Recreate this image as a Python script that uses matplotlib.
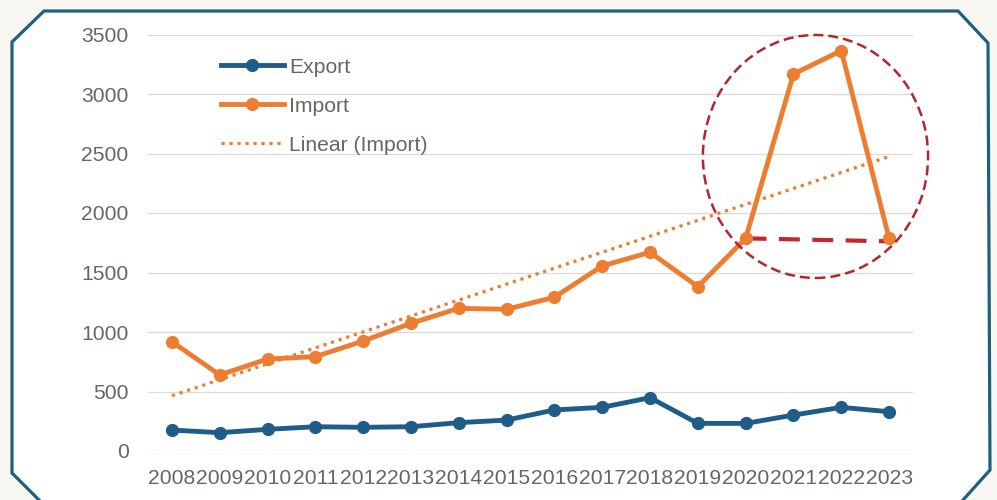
import numpy as np
import matplotlib.pyplot as plt
from matplotlib.patches import Polygon, Ellipse

years = ['2008', '2009', '2010', '2011', '2012', '2013', '2014', '2015',
         '2016', '2017', '2018', '2019', '2020', '2021', '2022', '2023']
export = [176, 154, 182, 204, 199, 204, 238, 260, 345, 367, 448, 232, 232, 302, 367, 330]
imports = [918, 639, 773, 793, 924, 1073, 1199, 1191, 1292, 1555, 1670, 1381, 1787, 3168, 3364, 1787]
y_ticks = [0, 500, 1000, 1500, 2000, 2500, 3000, 3500]

plt.rcParams['font.family'] = ['Liberation Sans', 'DejaVu Sans']

fig = plt.figure(figsize=(9.97, 5.0), dpi=100)
fig.patch.set_facecolor('#f8f7f2')

# framed panel with cut corners (pixel coords -> figure fraction)
W, H = 997, 500
pts = [(12, 42), (44, 11), (958, 11), (988, 43), (990, 470), (954, 510),
       (49, 510), (12, 473)]
frame = Polygon([(x / W, 1 - y / H) for x, y in pts], closed=True,
                transform=fig.transFigure, facecolor='white',
                edgecolor='#1f5f80', linewidth=2.3, zorder=-1)
fig.patches.append(frame)

ax = fig.add_axes([148 / W, 1 - 451 / H, (913 - 148) / W, (451 - 34.5) / H])
ax.set_facecolor('none')

x = np.arange(len(years))
ax.plot(x, export, color='#1f5c87', lw=3.5, marker='o', ms=8.5, label='Export', zorder=4)
ax.plot(x, imports, color='#ed7d31', lw=3.5, marker='o', ms=8.5, label='Import', zorder=4)

coef = np.polyfit(x, imports, 1)
ax.plot(x, np.polyval(coef, x), color='#ed7d31', lw=2.3, ls=(0, (1, 1.5)),
        label='Linear (Import)', zorder=3)

# highlight of the 2020-2023 swing
ax.plot([12, 15], [imports[12], imports[12] - 25], color='#c3262c', lw=3,
        ls=(0, (5, 3)), zorder=3)
ax.add_patch(Ellipse((13.46, 2475), 4.71, 2042, fill=False, edgecolor='#b3262c',
                     lw=1.8, ls=(0, (4, 2)), zorder=5, clip_on=False))

ax.set_xlim(-0.5, 15.5)
ax.set_ylim(0, 3500)
ax.set_xticks(x)
ax.set_xticklabels(years)
ax.set_yticks(y_ticks)
ax.tick_params(length=0, labelsize=15.2, labelcolor='#6b6462', pad=13)
ax.tick_params(axis='y', pad=14)
ax.grid(axis='y', color='#dcdcdc', lw=1)
ax.set_axisbelow(True)
for s in ax.spines.values():
    s.set_visible(False)

ax.legend(loc='upper left', bbox_to_anchor=(0.07, 0.99), frameon=False,
          fontsize=15.2, labelcolor='#6b6462', handlelength=3.0,
          handletextpad=0.25, labelspacing=0.95)

fig.savefig('out.png', dpi=100)
